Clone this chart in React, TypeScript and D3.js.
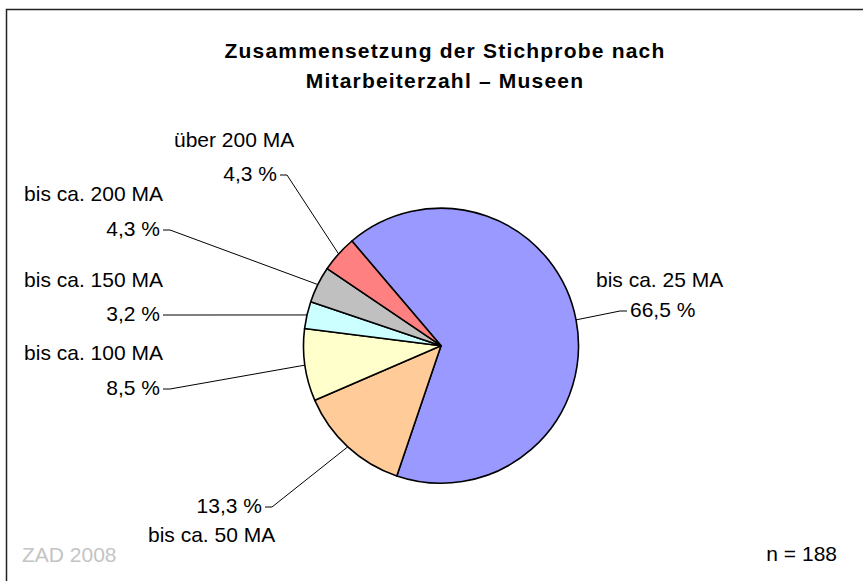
import React from "react";
import * as d3 from "d3";

const categories = [
  "bis ca. 25 MA",
  "bis ca. 50 MA",
  "bis ca. 100 MA",
  "bis ca. 150 MA",
  "bis ca. 200 MA",
  "über 200 MA",
];
const shares = [66.5, 13.3, 8.5, 3.2, 4.3, 4.3];
const shareLabels = ["66,5 %", "13,3 %", "8,5 %", "3,2 %", "4,3 %", "4,3 %"];
const colors = ["#9999FF", "#FFCC99", "#FFFFCC", "#CCFFFF", "#C0C0C0", "#FF8080"];
const titleLines = ["Zusammensetzung der Stichprobe nach", "Mitarbeiterzahl – Museen"];
const sourceNote = "ZAD 2008";
const sampleNote = "n = 188";

// label layout (positions of text boxes, not data)
type Lay = {
  pctX: number; pctY: number; pctAnchor: "start" | "end";
  nameX: number; nameY: number; nameAnchor: "start" | "end";
};
const labelLayout: Lay[] = [
  { pctX: 630, pctY: 317, pctAnchor: "start", nameX: 596, nameY: 287, nameAnchor: "start" },
  { pctX: 262, pctY: 513, pctAnchor: "end", nameX: 148, nameY: 542, nameAnchor: "start" },
  { pctX: 160, pctY: 395, pctAnchor: "end", nameX: 163, nameY: 360, nameAnchor: "end" },
  { pctX: 160, pctY: 321, pctAnchor: "end", nameX: 163, nameY: 287, nameAnchor: "end" },
  { pctX: 160, pctY: 236, pctAnchor: "end", nameX: 163, nameY: 201, nameAnchor: "end" },
  { pctX: 277, pctY: 181, pctAnchor: "end", nameX: 174, nameY: 147, nameAnchor: "start" },
];

const W = 863;
const H = 581;
const cx = 441;
const cy = 345.7;
const R = 137.5;
const startDeg = -40.4;

export default function App() {
  const start = (startDeg * Math.PI) / 180;
  const pie = d3
    .pie<number>()
    .sort(null)
    .value((d) => d)
    .startAngle(start)
    .endAngle(start + 2 * Math.PI);
  const arcs = pie(shares);
  const arc = d3.arc<d3.PieArcDatum<number>>().innerRadius(0).outerRadius(R);
  const edge = d3.arc<d3.PieArcDatum<number>>().innerRadius(R).outerRadius(R);
  const font = "'Liberation Sans', Arial, Helvetica, sans-serif";

  return (
    <div style={{ position: "absolute", left: 0, top: 0 }}>
      <svg width={W} height={H} style={{ display: "block" }} fontFamily={font}>
        <rect x={0} y={0} width={W} height={H} fill="#fff" />
        <rect x={6.5} y={9.5} width={W + 20} height={H + 20} fill="none" stroke="#222" strokeWidth={1.5} />
        {titleLines.map((t, i) => (
          <text
            key={i}
            x={445}
            y={57.5 + i * 30}
            textAnchor="middle"
            fontSize={21}
            fontWeight="bold"
            letterSpacing={1.2}
            fill="#000"
          >
            {t}
          </text>
        ))}
        <g transform={`translate(${cx},${cy})`}>
          {arcs.map((a, i) => (
            <path key={i} d={arc(a) || ""} fill={colors[i]} stroke="#000" strokeWidth={1.6} strokeLinejoin="round" />
          ))}
        </g>
        {arcs.map((a, i) => {
          const [ex, ey] = edge.centroid(a);
          const L = labelLayout[i];
          const ly = L.pctY - 6;
          const dir = L.pctAnchor === "end" ? 1 : -1;
          const x1 = L.pctX + dir * 3;
          const x2 = L.pctX + dir * 10;
          const pts: [number, number][] = [
            [cx + ex, cy + ey],
            [x2, ly],
            [x1, ly],
          ];
          return (
            <g key={i}>
              <path d={d3.line()(pts) || ""} fill="none" stroke="#000" strokeWidth={1} />
              <text x={L.pctX} y={L.pctY} textAnchor={L.pctAnchor} fontSize={21} fill="#000">
                {shareLabels[i]}
              </text>
              <text x={L.nameX} y={L.nameY} textAnchor={L.nameAnchor} fontSize={21} fill="#000">
                {categories[i]}
              </text>
            </g>
          );
        })}
        <text x={22} y={562} fontSize={21} fill="#C4C4C4">
          {sourceNote}
        </text>
        <text x={837} y={561} textAnchor="end" fontSize={21} fill="#000">
          {sampleNote}
        </text>
      </svg>
    </div>
  );
}
